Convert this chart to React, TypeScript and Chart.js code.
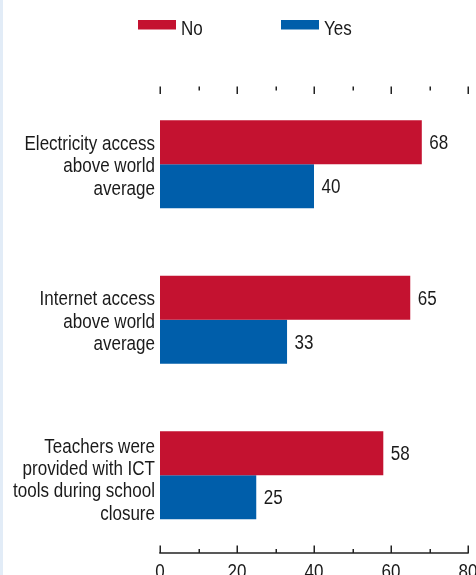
import React, { useEffect, useRef } from "react";
import { Chart, registerables } from "chart.js";

Chart.register(...registerables);

const categories: string[][] = [
  ["Electricity access", "above world", "average"],
  ["Internet access", "above world", "average"],
  ["Teachers were", "provided with ICT", "tools during school", "closure"],
];
const seriesNames = ["No", "Yes"];
const noValues = [68, 65, 58];
const yesValues = [40, 33, 25];
const xTicks = [0, 20, 40, 60, 80];
const minorTicks = [10, 30, 50, 70];

const RED = "#c41230";
const BLUE = "#005eaa";
const TEXT = "#1a1a1a";
const FONT = "'Liberation Sans', Arial, sans-serif";
const NARROW = 0.83;

function narrowText(ctx: any, text: string, x: number, y: number, align: string) {
  ctx.save();
  ctx.translate(x, y);
  ctx.scale(NARROW, 1);
  ctx.textAlign = align;
  ctx.fillText(text, 0, 0);
  ctx.restore();
}

const customPlugin = {
  id: "custom",
  afterDraw(chart: any) {
    const ctx = chart.ctx;
    const area = chart.chartArea;
    const xs = chart.scales.x;
    const ys = chart.scales.y;
    ctx.save();
    // ticks top and bottom
    ctx.strokeStyle = "#222";
    ctx.lineWidth = 1.5;
    const drawTick = (v: number, len: number) => {
      const x = Math.round(xs.getPixelForValue(v)) + 0.25;
      ctx.beginPath();
      ctx.moveTo(x, area.top);
      ctx.lineTo(x, area.top + len);
      ctx.moveTo(x, area.bottom);
      ctx.lineTo(x, area.bottom - len);
      ctx.stroke();
    };
    xTicks.forEach((v) => drawTick(v, 7.5));
    minorTicks.forEach((v) => drawTick(v, 4));
    ctx.beginPath();
    ctx.moveTo(xs.getPixelForValue(xTicks[0]) - 0.75, area.bottom);
    ctx.lineTo(xs.getPixelForValue(xTicks[xTicks.length - 1]) + 0.75, area.bottom);
    ctx.stroke();

    ctx.font = `20.5px ${FONT}`;
    ctx.fillStyle = TEXT;
    ctx.textBaseline = "alphabetic";

    // x tick labels
    xTicks.forEach((v) => {
      narrowText(ctx, String(v), xs.getPixelForValue(v), area.bottom + 24.5, "center");
    });

    // y category labels
    categories.forEach((lines, i) => {
      const cy = ys.getPixelForTick(i);
      const n = lines.length;
      lines.forEach((line, k) => {
        const y = cy + (n > 3 ? 11 : 8) + (k - (n - 1) / 2) * 22.3;
        narrowText(ctx, line, area.left - 5, y, "right");
      });
    });

    // value labels
    chart.data.datasets.forEach((ds: any, i: number) => {
      const meta = chart.getDatasetMeta(i);
      meta.data.forEach((bar: any, j: number) => {
        narrowText(ctx, String(ds.data[j]), bar.x + 7.5, bar.y + 7, "left");
      });
    });

    // legend
    const colors = [RED, BLUE];
    const starts = [138, 281];
    chart.data.datasets.forEach((ds: any, i: number) => {
      const x0 = starts[i];
      ctx.fillStyle = colors[i];
      ctx.fillRect(x0, 20, 38, 9.5);
      ctx.fillStyle = TEXT;
      narrowText(ctx, ds.label, x0 + 43, 35, "left");
    });
    ctx.restore();
  },
};

export default function App() {
  const ref = useRef<HTMLCanvasElement | null>(null);
  useEffect(() => {
    document.body.style.margin = "0";
    const chart = new Chart(ref.current as HTMLCanvasElement, {
      type: "bar",
      data: {
        labels: categories.map((c) => c.join(" ")),
        datasets: [
          { label: seriesNames[0], data: noValues, backgroundColor: RED, barPercentage: 1, categoryPercentage: 0.566 },
          { label: seriesNames[1], data: yesValues, backgroundColor: BLUE, barPercentage: 1, categoryPercentage: 0.566 },
        ],
      },
      options: {
        indexAxis: "y",
        responsive: false,
        animation: false,
        layout: { padding: { top: 86.5, right: 22, left: 0, bottom: 30 } },
        plugins: { legend: { display: false }, tooltip: { enabled: false } },
        scales: {
          x: {
            min: 0,
            max: 80,
            ticks: { display: false, stepSize: 20 },
            grid: { display: false, drawTicks: false },
            border: { display: false },
          },
          y: {
            ticks: { display: false },
            grid: { display: false, drawTicks: false },
            border: { display: false },
            afterFit: (scale: any) => {
              scale.width = 160;
            },
          },
        },
      },
      plugins: [customPlugin],
    });
    return () => chart.destroy();
  }, []);
  return (
    <div style={{ position: "relative", width: 476, height: 575, overflow: "hidden", background: "#fff" }}>
      <canvas ref={ref} width={490} height={583} style={{ position: "absolute", left: 0, top: 0 }} />
      <div style={{ position: "absolute", left: 0, top: 0, width: 3, height: 575, background: "#e2ecf7" }} />
    </div>
  );
}
